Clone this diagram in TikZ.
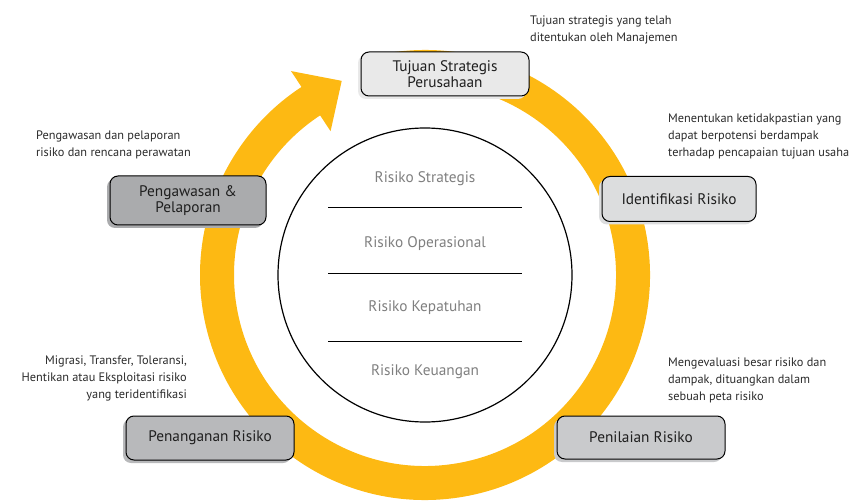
\documentclass[tikz,border=0pt]{standalone}
\usepackage{fontspec}
\setmainfont{PT Sans}
\usetikzlibrary{calc,shadows}
\definecolor{ringyellow}{HTML}{FDB913}
\definecolor{notegray}{HTML}{2A2A2A}
\definecolor{innergray}{HTML}{7F7F7F}
\definecolor{fillA}{HTML}{E9E9E9}
\definecolor{fillB}{HTML}{AAABAD}
\definecolor{fillC}{HTML}{DCDDDE}
\definecolor{fillD}{HTML}{B8B9BB}
\definecolor{fillE}{HTML}{C9CACC}
\begin{document}
\begin{tikzpicture}[x=1pt,y=1pt,
  note/.style={font=\fontsize{12.3}{17}\selectfont, text=notegray, inner sep=0pt},
  innerlabel/.style={font=\fontsize{15.3}{17}\selectfont, text=innergray, inner sep=0pt},
  stagebox/.style={draw=black, line width=1pt, rounded corners=8pt, fill=#1,
    drop shadow={shadow xshift=-3pt, shadow yshift=-3pt, opacity=1, fill=#1},
    font=\fontsize{15.3}{16.5}\selectfont, align=center, text=black!88, inner sep=0pt},
  divider/.style={line width=1pt, black}
]
\useasboundingbox (0,0) rectangle (858,501);
\coordinate (c) at (425,226);
% ring
\draw[ringyellow, line width=34pt] ($(c)+(100:208)$) arc[start angle=100, end angle=-237, radius=208];
\fill[ringyellow] ($(c)+(123.3:244)$) -- ($(c)+(123.3:172)$) -- ($(c)+(123.3:208)+(33.3:37)$) -- cycle;
% inner circle
\draw[line width=1.2pt] (c) circle[radius=147];
\coordinate (l1a) at (328,293); \coordinate (l1b) at (522,293);
\coordinate (l2a) at (328,228); \coordinate (l2b) at (522,228);
\coordinate (l3a) at (328,160); \coordinate (l3b) at (522,160);
\draw[divider] (l1a) -- (l1b);
\draw[divider] (l2a) -- (l2b);
\draw[divider] (l3a) -- (l3b);
\node[innerlabel] (r1) at (425,322) {Risiko Strategis};
\node[innerlabel] (r2) at (425,257) {Risiko Operasional};
\node[innerlabel] (r3) at (425,193) {Risiko Kepatuhan};
\node[innerlabel] (r4) at (425,129) {Risiko Keuangan};
% boxes
\node[stagebox=fillA, minimum width=168pt, minimum height=44pt] (tujuan) at (445,427) {Tujuan Strategis\\Perusahaan};
\node[stagebox=fillB, minimum width=156pt, minimum height=49pt] (pengawasan) at (188,300.5) {Pengawasan \&\\Pelaporan};
\node[stagebox=fillC, minimum width=154pt, minimum height=45pt] (identifikasi) at (679,302) {Identifikasi Risiko};
\node[stagebox=fillD, minimum width=168pt, minimum height=44pt] (penanganan) at (210,63) {Penanganan Risiko};
\node[stagebox=fillE, minimum width=168pt, minimum height=43pt] (penilaian) at (641,63.5) {Penilaian Risiko};
% notes
\node[note, anchor=north west, align=left] (n1) at (530,485.5) {Tujuan strategis yang telah\\ditentukan oleh Manajemen};
\node[note, anchor=north west, align=left] (n2) at (668,387.5) {Menentukan ketidakpastian yang\\dapat berpotensi berdampak\\terhadap pencapaian tujuan usaha};
\node[note, anchor=north west, align=left] (n3) at (36,370) {Pengawasan dan pelaporan\\risiko dan rencana perawatan};
\node[note, anchor=north east, align=right] (n4) at (187,145) {Migrasi, Transfer, Toleransi,\\Hentikan atau Eksploitasi risiko\\yang teridentifikasi};
\node[note, anchor=north west, align=left] (n5) at (668,143) {Mengevaluasi besar risiko dan\\dampak, dituangkan dalam\\sebuah peta risiko};
\end{tikzpicture}
\end{document}
